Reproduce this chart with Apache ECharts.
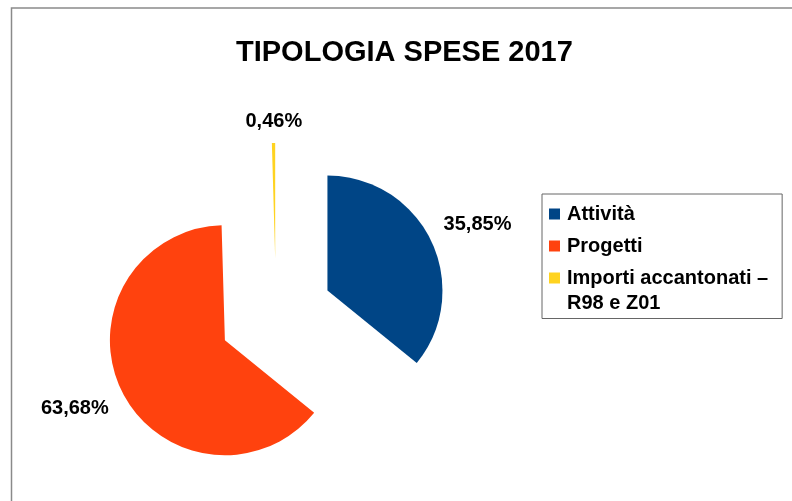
<!DOCTYPE html>
<html>
<head>
<meta charset="utf-8">
<title>Tipologia spese 2017</title>
<script src="https://cdn.jsdelivr.net/npm/echarts@6/dist/echarts.min.js"></script>
<style>
  html, body { margin: 0; padding: 0; background: #fff; }
  #chart { width: 792px; height: 501px; }
</style>
</head>
<body>
<div id="chart"></div>
<script>
// dati
var categories = ['Attività', 'Progetti', 'Importi accantonati –\nR98 e Z01'];
var percentages = [35.85, 63.68, 0.46];
var colors = ['#004586', '#ff420e', '#ffd320'];

// posizione etichette (stile per fetta)
var labelLineLen = [38, 38, 22];
var labelDist = [-22, -21, -29];

var chart = echarts.init(document.getElementById('chart'));

var pieData = categories.map(function (name, i) {
  return {
    name: name,
    value: percentages[i],
    selected: true,
    itemStyle: { color: colors[i] },
    label: { distanceToLabelLine: labelDist[i] },
    labelLine: { length: labelLineLen[i], length2: 0 }
  };
});

var boldFont = {
  fontFamily: 'Liberation Sans',
  fontSize: 20,
  fontWeight: 'bold',
  color: '#000'
};

var option = {
  animation: false,
  backgroundColor: '#fff',
  graphic: [{
    type: 'rect',
    shape: { x: 11.5, y: 8, width: 1000, height: 1000 },
    style: { fill: 'none', stroke: '#8a8a8a', lineWidth: 1.5 },
    silent: true
  }],
  title: {
    text: 'TIPOLOGIA SPESE 2017',
    left: 236,
    top: 38,
    padding: 0,
    textStyle: {
      fontFamily: 'Liberation Sans',
      fontSize: 29,
      fontWeight: 'bold',
      color: '#000'
    }
  },
  legend: {
    orient: 'vertical',
    left: 542,
    top: 194,
    padding: [8.5, 14, 5.5, 7],
    itemGap: 9,
    itemWidth: 11,
    itemHeight: 11,
    icon: 'rect',
    borderColor: '#666',
    borderWidth: 1,
    selectedMode: false,
    // prima riga allineata al quadratino, la seconda va a capo sotto
    formatter: function (name) {
      return name.split('\n').map(function (part, k) {
        return '{' + (k ? 'b' : 'a') + '|' + part + '}';
      }).join('\n');
    },
    textStyle: {
      fontFamily: 'Liberation Sans',
      fontSize: 20,
      fontWeight: 'bold',
      color: '#000',
      lineHeight: 23,
      padding: [0, 0, 0, 2],
      rich: {
        a: Object.assign({ lineHeight: 23 }, boldFont),
        b: Object.assign({ lineHeight: 0, height: 27, verticalAlign: 'top' }, boldFont)
      }
    }
  },
  series: [{
    type: 'pie',
    center: [276, 315],
    radius: 115,
    startAngle: 90,
    clockwise: true,
    selectedMode: 'multiple',
    selectedOffset: 57,
    avoidLabelOverlap: false,
    emphasis: { scale: false },
    label: Object.assign({
      show: true,
      position: 'outside',
      formatter: function (p) {
        return p.value.toFixed(2).replace('.', ',') + '%';
      }
    }, boldFont),
    labelLine: { show: false },
    data: pieData
  }]
};

chart.setOption(option);
</script>
</body>
</html>
